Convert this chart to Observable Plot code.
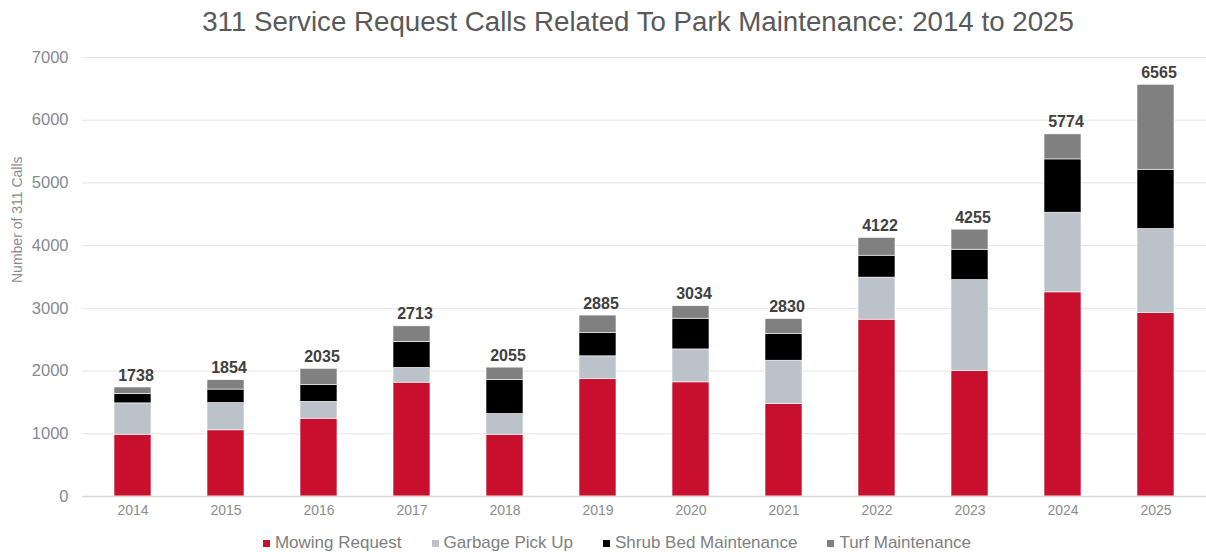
<!DOCTYPE html>
<html>
<head>
<meta charset="utf-8">
<script src="https://cdn.jsdelivr.net/npm/d3@7"></script>
<script src="https://cdn.jsdelivr.net/npm/@observablehq/plot@0.6"></script>
<style>
  html, body { margin: 0; padding: 0; background: #ffffff; }
  #wrap { position: relative; width: 1206px; height: 552px; overflow: hidden; font-family: "Liberation Sans", Arial, sans-serif; }
  #title { height: 45px; box-sizing: border-box; padding-top: 6px; padding-left: 70px; text-align: center; font-size: 27.7px; color: #595959; white-space: nowrap; }
  #chart svg { display: block; }
  #legend { position: absolute; left: 0; top: 533px; width: 1206px; box-sizing: border-box; padding-left: 28px; display: flex; justify-content: center; gap: 30px; font-size: 17px; color: #808080; white-space: nowrap; }
  .item { display: flex; align-items: center; }
  .sw { width: 7px; height: 7px; margin-right: 5px; display: inline-block; }
</style>
</head>
<body>
<div id="wrap">
  <div id="title">311 Service Request Calls Related To Park Maintenance: 2014 to 2025</div>
  <div id="chart"></div>
  <div id="legend"></div>
</div>
<script>
const years = ["2014","2015","2016","2017","2018","2019","2020","2021","2022","2023","2024","2025"];
const seriesNames = ["Mowing Request","Garbage Pick Up","Shrub Bed Maintenance","Turf Maintenance"];
const seriesColors = ["#c8102e","#bbc2c9","#000000","#808080"];
const mowing  = [985, 1055, 1240, 1815, 985, 1870, 1820, 1475, 2820, 2000, 3255, 2925];
const garbage = [500, 435, 270, 235, 330, 365, 525, 690, 670, 1450, 1270, 1340];
const shrub   = [150, 215, 265, 415, 545, 370, 490, 430, 350, 485, 850, 945];
const turf    = [103, 149, 260, 248, 195, 280, 199, 235, 282, 320, 399, 1355];
const totals  = [1738, 1854, 2035, 2713, 2055, 2885, 3034, 2830, 4122, 4255, 5774, 6565];
const yTicks  = [0, 1000, 2000, 3000, 4000, 5000, 6000, 7000];
const yLabel  = "Number of 311 Calls";

const seriesValues = [mowing, garbage, shrub, turf];
const rows = [];
seriesNames.forEach((s, si) => {
  years.forEach((y, i) => rows.push({year: y, series: s, value: seriesValues[si][i]}));
});
const totalRows = years.map((y, i) => ({year: y, total: totals[i]}));

const plot = Plot.plot({
  width: 1206,
  height: 480,
  marginLeft: 82,
  marginRight: 0,
  marginTop: 12,
  marginBottom: 29,
  style: {fontFamily: "'Liberation Sans', Arial, sans-serif", background: "#ffffff"},
  x: {domain: years, paddingInner: 0.6, paddingOuter: 0.3, label: null},
  y: {domain: [0, 7000], label: null},
  color: {domain: seriesNames, range: seriesColors},
  marks: [
    Plot.gridY(yTicks, {stroke: "#e4e4e4", strokeOpacity: 1, strokeWidth: 1}),
    Plot.axisY(yTicks, {tickSize: 0, tickPadding: 14, fontSize: 16.5, fill: "#868a91", label: null, tickFormat: d => String(d)}),
    Plot.axisX({tickSize: 0, tickPadding: 9, fontSize: 14, fill: "#8c8c8c", label: null}),
    Plot.barY(rows, {x: "year", y: "value", fill: "series", order: seriesNames, stroke: "#ffffff", strokeWidth: 0.6}),
    Plot.ruleY([0], {stroke: "#dadada", strokeWidth: 1.5}),
    Plot.text(totalRows, {x: "year", y: "total", text: d => String(d.total), dx: 3, dy: -7, lineAnchor: "bottom", fontWeight: "bold", fontSize: 16, fill: "#404040"}),
    Plot.text([yLabel], {frameAnchor: "left", text: d => d, rotate: -90, dx: -65, dy: 6, fontSize: 14, fill: "#8c8c8c"})
  ]
});
document.getElementById("chart").appendChild(plot);

const legend = document.getElementById("legend");
seriesNames.forEach((s, i) => {
  const it = document.createElement("div");
  it.className = "item";
  const sw = document.createElement("span");
  sw.className = "sw";
  sw.style.background = seriesColors[i];
  const t = document.createElement("span");
  t.textContent = s;
  it.appendChild(sw);
  it.appendChild(t);
  legend.appendChild(it);
});
</script>
</body>
</html>
